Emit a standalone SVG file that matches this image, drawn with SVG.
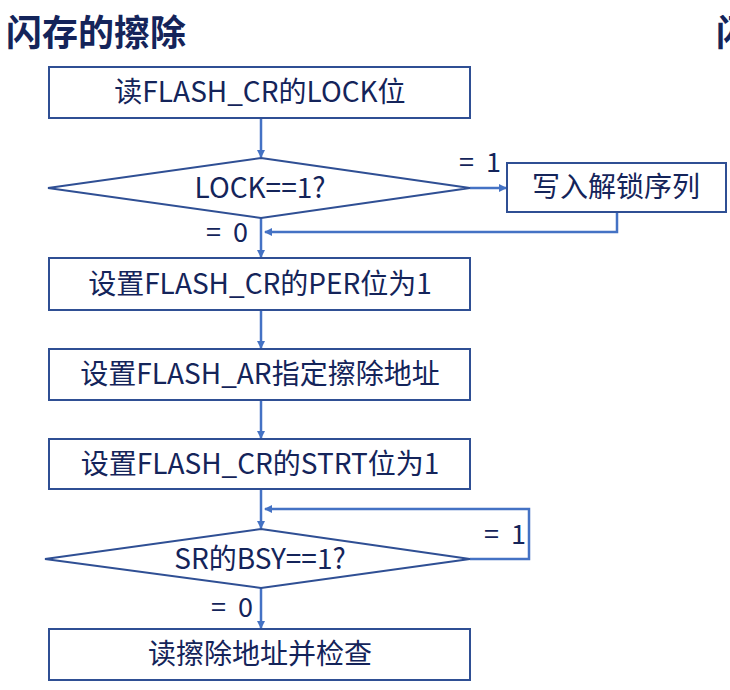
<svg xmlns="http://www.w3.org/2000/svg" width="730" height="690" viewBox="0 0 730 690">
<style>
.n{fill:#fff;stroke:#2f4f94;stroke-width:2}
.t{font-family:"Noto Sans CJK SC","Noto Sans",sans-serif;font-size:28px;fill:#14245a;text-anchor:middle}
.l{font-family:"Noto Sans CJK SC","Noto Sans",sans-serif;font-size:27px;fill:#14245a;white-space:pre}
.c{fill:none;stroke:#4472c4;stroke-width:2.5}
.h{font-family:"Noto Sans CJK SC",sans-serif;font-size:36px;font-weight:bold;fill:#14245a}
</style>
<defs><marker id="a" markerWidth="8" markerHeight="8" refX="7" refY="4" orient="auto" markerUnits="userSpaceOnUse"><path d="M0,0L8,4L0,8z" fill="#4472c4"/></marker></defs>
<rect width="730" height="690" fill="#fff"/>
<text class="h" x="6" y="46">闪存的擦除</text>
<text class="h" x="716" y="46">闪</text>
<g id="connectors">
<path class="c" d="M261,118V157" marker-end="url(#a)"/>
<path class="c" d="M470,188H506" marker-end="url(#a)"/>
<path class="c" d="M617,212V232H265" marker-end="url(#a)"/>
<path class="c" d="M261,218V257" marker-end="url(#a)"/>
<path class="c" d="M261,310V348" marker-end="url(#a)"/>
<path class="c" d="M261,400V438" marker-end="url(#a)"/>
<path class="c" d="M261,489V528" marker-end="url(#a)"/>
<path class="c" d="M470,559H529V509H265" marker-end="url(#a)"/>
<path class="c" d="M261,588V628" marker-end="url(#a)"/>
<text class="l" x="459" y="172">=  1</text>
<text class="l" x="206" y="242">=  0</text>
<text class="l" x="484" y="544">=  1</text>
<text class="l" x="211" y="617">=  0</text>
</g>
<g id="n1"><rect class="n" x="49" y="67" width="421" height="51"/><text class="t" x="260" y="102">读FLASH_CR的LOCK位</text></g>
<g id="d1"><polygon class="n" points="261,158 470,188 261,218 48,188"/><text class="t" x="260" y="198">LOCK==1?</text></g>
<g id="n2"><rect class="n" x="507" y="163" width="219" height="49"/><text class="t" x="616" y="197">写入解锁序列</text></g>
<g id="n3"><rect class="n" x="49" y="258" width="421" height="52"/><text class="t" x="260" y="294">设置FLASH_CR的PER位为1</text></g>
<g id="n4"><rect class="n" x="49" y="349" width="421" height="51"/><text class="t" x="260" y="384">设置FLASH_AR指定擦除地址</text></g>
<g id="n5"><rect class="n" x="49" y="439" width="421" height="50"/><text class="t" x="260" y="474">设置FLASH_CR的STRT位为1</text></g>
<g id="d2"><polygon class="n" points="261,529 470,559 261,588 45,559"/><text class="t" x="260" y="569">SR的BSY==1?</text></g>
<g id="n6"><rect class="n" x="49" y="629" width="421" height="51"/><text class="t" x="260" y="664">读擦除地址并检查</text></g>
</svg>
